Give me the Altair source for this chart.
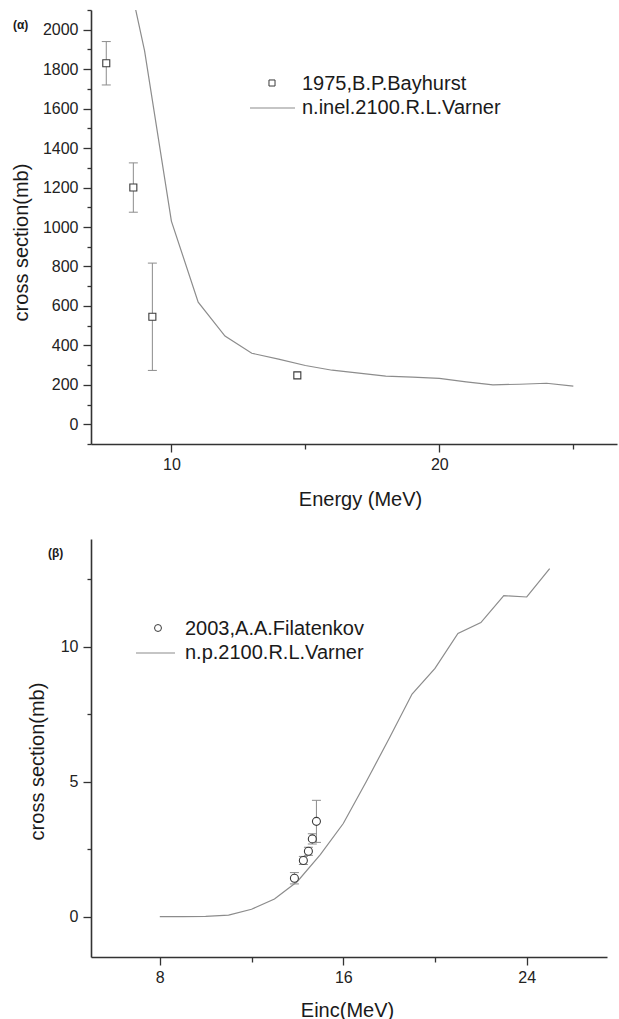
import altair as alt
import pandas as pd

FONT = "Liberation Sans"
LINE_COLOR = "#8c8c8c"
MARK_STROKE = "#3a3a3a"
AXIS_COLOR = "#333333"

# ---------------- panel (α) ----------------
a_line_E = [8, 9, 10, 11, 12, 13, 14, 15, 16, 17, 18, 19, 20, 21, 22, 23, 24, 25]
a_line_sigma = [2520, 1893, 1030, 619, 447, 360, 330, 298, 274, 259, 244, 239, 233, 215, 200, 203, 208, 193]
a_exp_E = [7.57, 8.58, 9.29, 14.7]
a_exp_sigma = [1830, 1200, 545, 248]
a_exp_err = [110, 125, 272, 0]
a_series = ["1975,B.P.Bayhurst", "n.inel.2100.R.L.Varner"]
a_xticks = [10, 20]
a_xminor = [15, 25]
a_yticks = list(range(0, 2001, 200))
a_yminor = list(range(-100, 2101, 200))
a_label = "(α)"

# ---------------- panel (β) ----------------
b_line_E = [8, 9, 10, 11, 12, 13, 14, 15, 16, 17, 18, 19, 20, 21, 22, 23, 24, 25]
b_line_sigma = [0, 0, 0.01, 0.05, 0.27, 0.65, 1.3, 2.3, 3.45, 5.0, 6.6, 8.25, 9.2, 10.5, 10.9, 11.9, 11.85, 12.9]
b_exp_E = [13.87, 14.26, 14.48, 14.65, 14.83]
b_exp_sigma = [1.42, 2.08, 2.42, 2.88, 3.53]
b_exp_err = [0.21, 0.15, 0.15, 0.19, 0.78]
b_series = ["2003,A.A.Filatenkov", "n.p.2100.R.L.Varner"]
b_xticks = [8, 16, 24]
b_xminor = [12, 20]
b_yticks = [0, 5, 10]
b_yminor = [2.5, 7.5, 12.5]
b_label = "(β)"


def panel(line_E, line_s, exp_E, exp_s, exp_err, series, label,
          xdom, ydom, width, height, xt, xm, yt, ym,
          xtitle, xtitle_x, xtitle_y, ytitle, ytitle_x, ytitle_y,
          shape, msize, leg, lab_pos):
    line_df = pd.DataFrame({"E": line_E, "sigma": line_s})
    exp_df = pd.DataFrame({"E": exp_E, "sigma": exp_s, "err": exp_err})
    err_df = exp_df[exp_df["err"] > 0].copy()
    err_df["lo"] = err_df["sigma"] - err_df["err"]
    err_df["hi"] = err_df["sigma"] + err_df["err"]

    xs = alt.Scale(domain=xdom, nice=False, zero=False)
    ys = alt.Scale(domain=ydom, nice=False, zero=False)

    major_x = alt.Axis(values=xt, tickSize=8, labelPadding=4, format="d",
                       title=xtitle, titleX=xtitle_x, titleY=xtitle_y,
                       titleBaseline="alphabetic", titleAlign="center", orient="bottom")
    minor_x = alt.Axis(values=xm, tickSize=5, labels=False, domain=False,
                       title=None, orient="bottom")
    major_y = alt.Axis(values=yt, tickSize=8, labelPadding=5, format="d",
                       title=ytitle, titleX=ytitle_x, titleY=ytitle_y, titleAngle=270,
                       titleBaseline="alphabetic", titleAlign="center", orient="left")
    minor_y = alt.Axis(values=ym, tickSize=4, labels=False, domain=False,
                       title=None, orient="left")

    line = alt.Chart(line_df).mark_line(color=LINE_COLOR, strokeWidth=1.2, clip=True).encode(
        x=alt.X("E:Q", scale=xs, axis=major_x),
        y=alt.Y("sigma:Q", scale=ys, axis=major_y),
    )
    rule = alt.Chart(err_df).mark_rule(color=LINE_COLOR, strokeWidth=1).encode(
        x=alt.X("E:Q", scale=xs, axis=None),
        y=alt.Y("lo:Q", scale=ys, axis=None),
        y2="hi:Q",
    )
    cap_lo = alt.Chart(err_df).mark_tick(orient="horizontal", size=9, thickness=1,
                                         color=LINE_COLOR, opacity=1).encode(
        x=alt.X("E:Q", scale=xs, axis=None),
        y=alt.Y("lo:Q", scale=ys, axis=None),
    )
    cap_hi = alt.Chart(err_df).mark_tick(orient="horizontal", size=9, thickness=1,
                                         color=LINE_COLOR, opacity=1).encode(
        x=alt.X("E:Q", scale=xs, axis=None),
        y=alt.Y("hi:Q", scale=ys, axis=None),
    )
    pts = alt.Chart(exp_df).mark_point(shape=shape, size=msize, filled=True, fill="white",
                                       stroke=MARK_STROKE, strokeWidth=1.1, opacity=1).encode(
        x=alt.X("E:Q", scale=xs, axis=minor_x),
        y=alt.Y("sigma:Q", scale=ys, axis=minor_y),
    )

    (sx, sy, tx, ty1, ty2, lx1, lx2, ly) = leg
    sym_df = pd.DataFrame({"s": [series[0]]})
    ln_df = pd.DataFrame({"s": [series[1]]})
    leg_sym = alt.Chart(sym_df).mark_point(shape=shape, size=msize * 0.75, filled=True,
                                           fill="white", stroke=MARK_STROKE,
                                           strokeWidth=1, opacity=1).encode(
        x=alt.value(sx), y=alt.value(sy))
    leg_t1 = alt.Chart(sym_df).mark_text(align="left", baseline="alphabetic", font=FONT,
                                         fontSize=20, color="#1a1a1a").encode(
        x=alt.value(tx), y=alt.value(ty1), text="s:N")
    leg_line = alt.Chart(ln_df).mark_rule(color=LINE_COLOR, strokeWidth=1.2).encode(
        x=alt.value(lx1), x2=alt.value(lx2), y=alt.value(ly))
    leg_t2 = alt.Chart(ln_df).mark_text(align="left", baseline="alphabetic", font=FONT,
                                        fontSize=20, color="#1a1a1a").encode(
        x=alt.value(tx), y=alt.value(ty2), text="s:N")
    lab = alt.Chart(pd.DataFrame({"s": [label]})).mark_text(
        align="left", baseline="alphabetic", font=FONT, fontSize=12,
        fontWeight="bold", color="#1a1a1a").encode(
        x=alt.value(lab_pos[0]), y=alt.value(lab_pos[1]), text="s:N")

    return alt.layer(line, rule, cap_lo, cap_hi, pts, leg_sym, leg_t1, leg_line, leg_t2, lab).resolve_axis(
        x="independent", y="independent"
    ).properties(width=width, height=height)


top = panel(a_line_E, a_line_sigma, a_exp_E, a_exp_sigma, a_exp_err, a_series, a_label,
            [7, 26.63], [-100, 2100], 526, 434,
            a_xticks, a_xminor, a_yticks, a_yminor,
            "Energy (MeV)", 269, 61, "cross section(mb)", -64, 232,
            "square", 49, (181, 73, 211, 80, 104, 159, 204, 98), (-78, 19))

bottom = panel(b_line_E, b_line_sigma, b_exp_E, b_exp_sigma, b_exp_err, b_series, b_label,
               [5, 27.5], [-1.5, 14], 516, 418,
               b_xticks, b_xminor, b_yticks, b_yminor,
               "Einc(MeV)", 256, 59, "cross section(mb)", -48, 222,
               "circle", 64, (67, 89, 94, 96, 120, 45, 84, 114), (-43, 18))

chart = alt.vconcat(top, bottom, spacing=95, bounds="flush").properties(
    padding={"left": 10, "top": 8, "right": 0, "bottom": 0}
).configure_view(stroke="transparent").configure_axis(
    grid=False,
    domainColor=AXIS_COLOR, domainWidth=1.6,
    tickColor=AXIS_COLOR, tickWidth=1.3,
    labelFont=FONT, labelFontSize=16, labelColor="#222222",
    titleFont=FONT, titleFontSize=20, titleFontWeight="normal", titleColor="#1a1a1a",
)

chart.save("out.html", embed_options={"renderer": "svg", "actions": False})
